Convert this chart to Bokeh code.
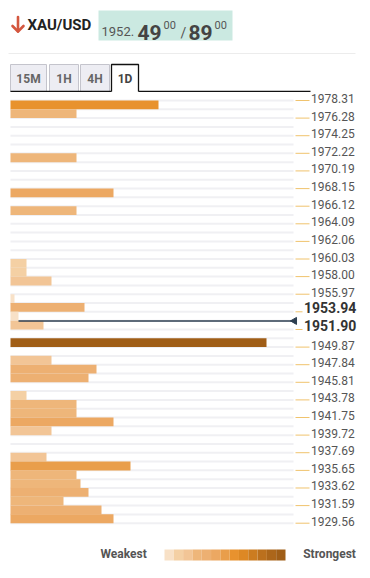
from bokeh.plotting import figure
from bokeh.layouts import column
from bokeh.models import Range1d, ColumnDataSource, LinearColorMapper
from bokeh.transform import transform
from bokeh.core.properties import value
from bokeh.embed import file_html
from bokeh.resources import INLINE
import math

# ---------------- data ----------------
symbol = "XAU/USD"
bid_head = "1952."
bid_big = "49"
ask_big = "89"
pip_tail = "00"
current_price = 1952.89
timeframes = ["15M", "1H", "4H", "1D"]
active_tf = "1D"

tick_labels = ["1978.31", "1976.28", "1974.25", "1972.22", "1970.19", "1968.15",
               "1966.12", "1964.09", "1962.06", "1960.03", "1958.00", "1955.97",
               "1953.94", "1951.90", "1949.87", "1947.84", "1945.81", "1943.78",
               "1941.75", "1939.72", "1937.69", "1935.65", "1933.62", "1931.59",
               "1929.56"]
bold_labels = ["1953.94", "1951.90"]

bar_prices = [1977.80, 1976.79, 1971.71, 1967.65, 1965.62, 1959.52, 1958.51,
              1957.49, 1955.46, 1954.44, 1953.43, 1952.41, 1950.38, 1948.35,
              1947.33, 1946.32, 1944.29, 1943.27, 1942.26, 1941.24, 1940.22,
              1937.18, 1936.16, 1935.15, 1934.13, 1933.12, 1932.10, 1931.08,
              1930.07]
bar_strength = [148, 66, 66, 103, 66, 16, 16, 41, 4, 74, 8, 33, 256, 41, 86, 78,
                16, 66, 66, 103, 41, 36, 120, 66, 70, 78, 53, 91, 103]

palette = ["#f8e1c7", "#f4d0a4", "#f2c596", "#eeb67a", "#edb072", "#eca862",
           "#e99e4b", "#e8922e", "#dd8824", "#cc7c20", "#bb701d", "#ac661a",
           "#a05e17"]
legend_low = "Weakest"
legend_high = "Strongest"

FONT = value("Roboto")
M = 8          # page offset compensation
W = 354 + M


def base_fig(h, xr, yr):
    f = figure(width=W, height=h, x_range=xr, y_range=yr, output_backend="svg",
               toolbar_location=None, min_border=0, x_axis_type=None,
               y_axis_type=None, background_fill_color="white",
               border_fill_color="white", outline_line_color=None)
    f.grid.visible = False
    return f


# ---------------- header (pixel coords) ----------------
hd = base_fig(84 + M, Range1d(-M, W - M), Range1d(84, -M))
# down arrow icon
hd.multi_line(xs=[[9.5, 9.5], [4, 9.5, 15]], ys=[[8.5, 23], [17.5, 23, 17.5]],
              line_color="#d4573f", line_width=2.6, line_cap="round",
              line_join="round")
hd.text(x=[19], y=[16], text=[symbol], text_font=FONT, text_font_style="bold",
        text_font_size="15px", text_color="#222222", text_baseline="middle")
hd.quad(left=[90], right=[224], top=[2], bottom=[32], fill_color="#cbe9e1",
        line_color=None)
hd.text(x=[93], y=[23], text=[bid_head], text_font=FONT, text_font_size="13px",
        text_color="#555555", text_baseline="alphabetic")
hd.text(x=[129, 180], y=[23.5, 23.5], text=[bid_big, ask_big], text_font=FONT,
        text_font_style="bold", text_font_size="21px", text_color="#444444",
        text_baseline="alphabetic")
hd.text(x=[155, 206], y=[16, 16], text=[pip_tail, pip_tail], text_font=FONT,
        text_font_size="11px", text_color="#555555", text_baseline="alphabetic")
hd.text(x=[172], y=[24], text=["/"], text_font=FONT, text_font_size="14px",
        text_color="#555555", text_baseline="alphabetic")
hd.segment(x0=[0], x1=[347], y0=[45], y1=[45], line_color="#ececec", line_width=1)

tab_l = [2, 41, 72, 103]
tab_r = [38, 70, 101, 130]
inact = [i for i, t in enumerate(timeframes) if t != active_tf]
act = timeframes.index(active_tf)
hd.quad(left=[tab_l[i] for i in inact], right=[tab_r[i] for i in inact],
        top=[56] * len(inact), bottom=[83] * len(inact), fill_color="#ededf3",
        line_color="#c4c4cc", line_width=1)
hd.text(x=[(tab_l[i] + tab_r[i]) / 2 for i in range(len(timeframes))],
        y=[70] * len(timeframes), text=timeframes, text_font=FONT,
        text_font_style="bold", text_font_size="12px",
        text_color=["#666666" if i != act else "#444444" for i in range(len(timeframes))],
        text_align="center", text_baseline="middle")
hd.multi_line(xs=[[tab_l[act], tab_l[act], tab_r[act], tab_r[act]],
                  [2, tab_l[act]], [tab_r[act], 302]],
              ys=[[83, 56, 56, 83], [83, 83], [83, 83]],
              line_color="#111111", line_width=1.3)

# ---------------- main chart ----------------
tick_vals = [float(t) for t in tick_labels]
top_p, bot_p = tick_vals[0], tick_vals[-1]
n_rows = 2 * (len(tick_vals) - 1)
row_h = (top_p - bot_p) / n_rows
ppu = 8.671
CH = 438
ch = base_fig(CH, Range1d(-2 - M, W - 2 - M),
              Range1d(bot_p - (CH - 430.7) / ppu, top_p + 8 / ppu))

bounds = [top_p - k * row_h for k in range(n_rows + 1)]
ch.segment(x0=[0] * len(bounds), x1=[283] * len(bounds), y0=bounds, y1=bounds,
           line_color="#f0f0f3", line_width=2)

mapper = LinearColorMapper(palette=palette, low=-10, high=256)
src = ColumnDataSource(dict(y=bar_prices, s=bar_strength))
ch.hbar(y="y", left=0, right="s", height=row_h, source=src,
        fill_color=transform("s", mapper), line_color=None)

reg = [(v, t) for v, t in zip(tick_vals, tick_labels) if t not in bold_labels]
bld = [(v, t) for v, t in zip(tick_vals, tick_labels) if t in bold_labels]
ch.segment(x0=[285] * len(reg), x1=[299] * len(reg), y0=[v for v, _ in reg],
           y1=[v for v, _ in reg], line_color="#f0c36d", line_width=1)
ch.segment(x0=[285] * len(bld), x1=[292] * len(bld), y0=[v for v, _ in bld],
           y1=[v for v, _ in bld], line_color="#f0c36d", line_width=1)
ch.text(x=[300.5] * len(reg), y=[v for v, _ in reg], text=[t for _, t in reg],
        text_font=FONT, text_font_size="12px", text_color="#555555",
        text_baseline="middle", y_offset=-2)
ch.text(x=[293.5] * len(bld), y=[v for v, _ in bld], text=[t for _, t in bld],
        text_font=FONT, text_font_style="bold", text_font_size="14px",
        text_color="#333333", text_baseline="middle", y_offset=-4)

ch.segment(x0=[8], x1=[282], y0=[current_price], y1=[current_price],
           line_color="#2c3e50", line_width=1.5)
ch.scatter(x=[284], y=[current_price], marker="triangle", size=7,
           angle=math.pi / 2, fill_color="#2c3e50", line_color="#2c3e50")

# ---------------- legend ----------------
lg = base_fig(40, Range1d(-M, W - M), Range1d(40, 0))
n = len(palette)
gx0, gx1 = 156, 277
gw = (gx1 - gx0) / n
lg.quad(left=[gx0 + i * gw for i in range(n)], right=[gx0 + (i + 1) * gw for i in range(n)],
        top=[19] * n, bottom=[30] * n, fill_color=palette, line_color=None)
lg.text(x=[92, 294.7], y=[23, 23], text=[legend_low, legend_high], text_font=FONT,
        text_font_style="bold", text_font_size="12px", text_color="#555555",
        text_baseline="middle")

layout = column(hd, ch, lg, spacing=0)
open("out.html", "w").write(file_html(layout, INLINE))
